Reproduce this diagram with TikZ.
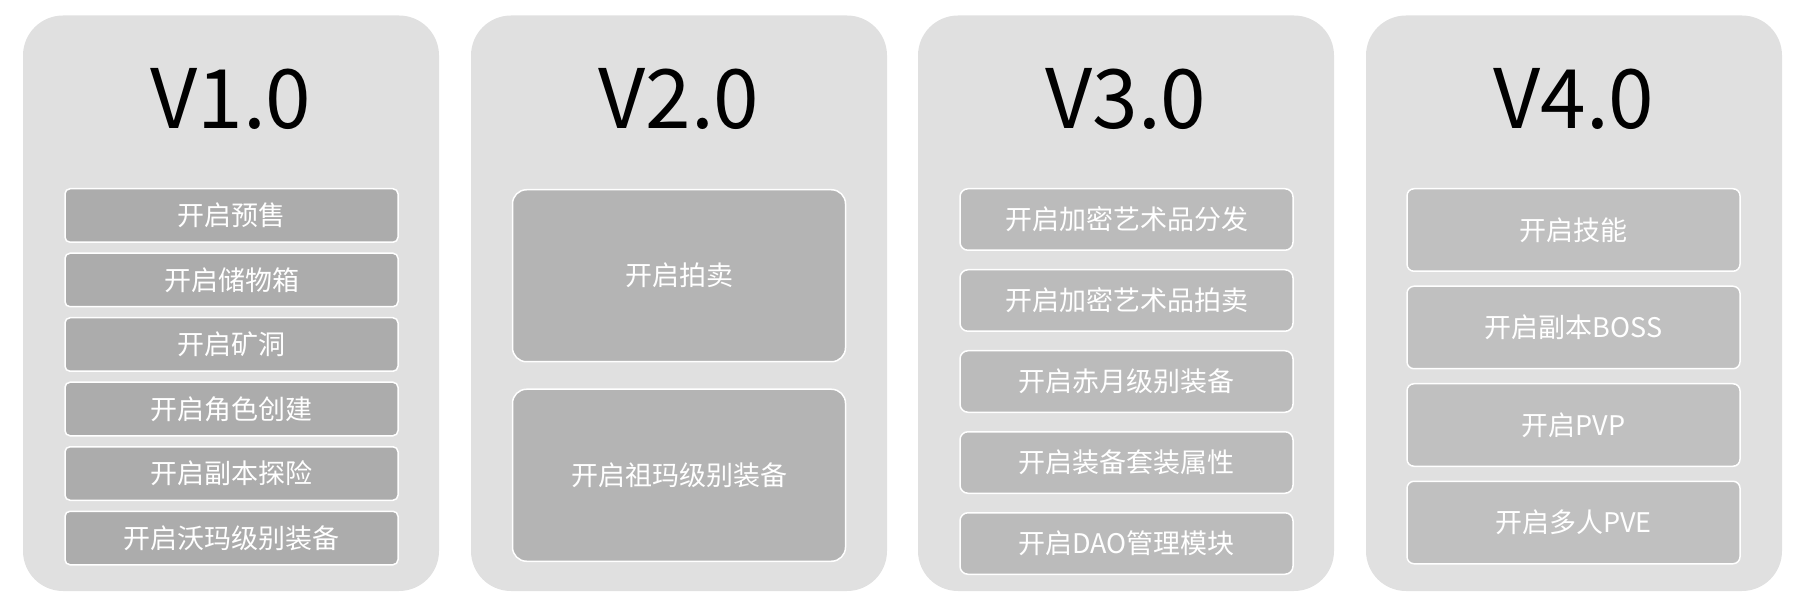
\documentclass[tikz,border=0pt]{standalone}
\usepackage{fontspec}
\setmainfont{Noto Sans CJK SC}
\usetikzlibrary{positioning}

\definecolor{panelgray}{HTML}{E0E0E0}
\definecolor{fillA}{HTML}{ACACAC}
\definecolor{fillB}{HTML}{B4B4B4}
\definecolor{fillC}{HTML}{BBBBBB}
\definecolor{fillD}{HTML}{C0C0C0}

\begin{document}
\begin{tikzpicture}[
  x=0.5pt, y=-0.5pt,
  panel/.style={
    rectangle, rounded corners=20pt,
    fill=panelgray,
    minimum width=208pt, minimum height=287.75pt,
    inner sep=0pt
  },
  title/.style={anchor=base, font=\fontsize{41pt}{43pt}\selectfont, text=black},
  feat/.style={
    rectangle, draw=white, line width=0.75pt,
    text=white, font=\fontsize{13.5pt}{16pt}\selectfont,
    minimum width=166.5pt, inner sep=0pt
  },
  featA/.style={feat, fill=fillA, minimum height=26.75pt, rounded corners=2.5pt},
  featB/.style={feat, fill=fillB, minimum height=86pt, rounded corners=7pt},
  featC/.style={feat, fill=fillC, minimum height=30.75pt, rounded corners=4pt},
  featD/.style={feat, fill=fillD, minimum height=41.25pt, rounded corners=3.5pt}
]
\useasboundingbox (0,0) rectangle (1800,609);

% Version panels
\node[panel] (p1) at (231,303.25) {};
\node[panel] (p2) at (679,303.25) {};
\node[panel] (p3) at (1126,303.25) {};
\node[panel] (p4) at (1574,303.25) {};

\node[title] (t1) at (231,129) {V1.0};
\node[title] (t2) at (679,129) {V2.0};
\node[title] (t3) at (1126,129) {V3.0};
\node[title] (t4) at (1574,129) {V4.0};

% V1.0
\node[featA, anchor=north] (v1a) at (231.5,188) {开启预售};
\node[featA, below=4.75pt of v1a] (v1b) {开启储物箱};
\node[featA, below=4.75pt of v1b] (v1c) {开启矿洞};
\node[featA, below=4.75pt of v1c] (v1d) {开启角色创建};
\node[featA, below=4.75pt of v1d] (v1e) {开启副本探险};
\node[featA, below=4.75pt of v1e] (v1f) {开启沃玛级别装备};

% V2.0
\node[featB, anchor=north] (v2a) at (679,189) {开启拍卖};
\node[featB, below=13pt of v2a] (v2b) {开启祖玛级别装备};

% V3.0
\node[featC, anchor=north] (v3a) at (1126.5,188) {开启加密艺术品分发};
\node[featC, below=9pt of v3a] (v3b) {开启加密艺术品拍卖};
\node[featC, below=9pt of v3b] (v3c) {开启赤月级别装备};
\node[featC, below=9pt of v3c] (v3d) {开启装备套装属性};
\node[featC, below=9pt of v3d] (v3e) {开启DAO管理模块};

% V4.0
\node[featD, anchor=north] (v4a) at (1573.5,188) {开启技能};
\node[featD, below=6.75pt of v4a] (v4b) {开启副本BOSS};
\node[featD, below=6.75pt of v4b] (v4c) {开启PVP};
\node[featD, below=6.75pt of v4c] (v4d) {开启多人PVE};

\end{tikzpicture}
\end{document}
